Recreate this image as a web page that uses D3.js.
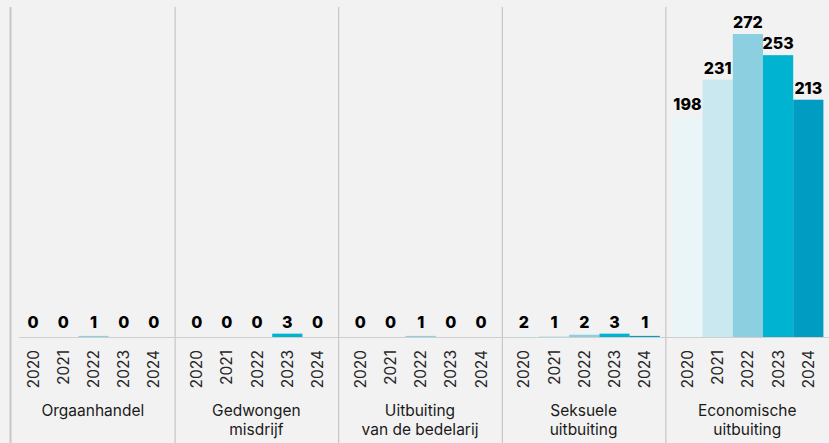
<!DOCTYPE html>
<html><head><meta charset="utf-8">
<script src="https://cdn.jsdelivr.net/npm/d3@7"></script>
<style>
html,body{margin:0;padding:0;background:#f2f2f2;}
svg{display:block;}
</style></head>
<body>
<svg id="chart" width="829" height="443"></svg>
<script>
const categories = ["Orgaanhandel", "Gedwongen misdrijf", "Uitbuiting van de bedelarij", "Seksuele uitbuiting", "Economische uitbuiting"];
const categoryLines = [["Orgaanhandel"], ["Gedwongen", "misdrijf"], ["Uitbuiting", "van de bedelarij"], ["Seksuele", "uitbuiting"], ["Economische", "uitbuiting"]];
const years = ["2020", "2021", "2022", "2023", "2024"];
const orgaanhandel = [0, 0, 1, 0, 0];
const gedwongenMisdrijf = [0, 0, 0, 3, 0];
const bedelarij = [0, 0, 1, 0, 0];
const seksueel = [2, 1, 2, 3, 1];
const economisch = [198, 231, 272, 253, 213];
const seriesValues = [orgaanhandel, gedwongenMisdrijf, bedelarij, seksueel, economisch];
const yearColors = ["#e9f5f7", "#c9e8ef", "#8bcfe0", "#00b3d0", "#009cc2"];

const svg = d3.select("#chart");
const W = 829, H = 443;
const baseY = 337;
const FONT = "Inter, 'DejaVu Sans', sans-serif";

const xPanel = d3.scaleBand().domain(categories).range([11, 829]).padding(0);
const xYear = d3.scaleBand().domain(years).range([7, 158]).padding(0);
const y = d3.scaleLinear().domain([0, 272]).range([baseY, 34]);
const color = d3.scaleOrdinal().domain(years).range(yearColors);

// separators
svg.selectAll("line.sep").data(categories).enter().append("line")
  .attr("class", "sep")
  .attr("x1", d => xPanel(d) + (d === categories[0] ? -0.5 : 0.5))
  .attr("x2", d => xPanel(d) + (d === categories[0] ? -0.5 : 0.5))
  .attr("y1", 7).attr("y2", H)
  .attr("stroke", (d, i) => i === 0 ? "#c8c8c8" : "#bdbdbd")
  .attr("stroke-width", (d, i) => i === 0 ? 2 : 1);

// baseline
svg.append("line")
  .attr("x1", 19).attr("x2", W)
  .attr("y1", baseY + 0.5).attr("y2", baseY + 0.5)
  .attr("stroke", "#cfcfcf").attr("stroke-width", 1);

const panels = svg.selectAll("g.panel").data(categories).enter().append("g")
  .attr("class", "panel")
  .attr("transform", d => `translate(${xPanel(d)},0)`);

panels.each(function(cat, ci) {
  const g = d3.select(this);
  const vals = seriesValues[ci];
  const rows = years.map((yr, i) => ({yr, v: vals[i]}));
  g.selectAll("rect").data(rows).enter().append("rect")
    .attr("x", d => xYear(d.yr))
    .attr("width", xYear.bandwidth())
    .attr("y", d => y(d.v))
    .attr("height", d => baseY - y(d.v))
    .attr("fill", d => color(d.yr));
  g.selectAll("text.val").data(rows).enter().append("text")
    .attr("class", "val")
    .attr("x", d => xYear(d.yr) + xYear.bandwidth() / 2)
    .attr("y", d => Math.min(y(d.v) - 6, 327.5))
    .attr("text-anchor", "middle")
    .attr("font-family", FONT)
    .attr("font-weight", 800)
    .attr("font-size", 16)
    .attr("fill", "#000")
    .text(d => d.v);
  // year tick labels
  const axis = d3.axisBottom(xYear).tickSize(0).tickPadding(0);
  const ag = g.append("g").attr("transform", `translate(0,${baseY})`).call(axis);
  ag.select(".domain").remove();
  ag.selectAll("text")
    .attr("transform", "rotate(-90)")
    .attr("x", -13).attr("y", 0).attr("dy", "0.35em")
    .attr("text-anchor", "end")
    .attr("font-family", FONT)
    .attr("font-size", 15.5)
    .attr("fill", "#262626");
  // category label
  const t = g.append("text")
    .attr("x", xPanel.bandwidth() / 2)
    .attr("y", 416)
    .attr("text-anchor", "middle")
    .attr("font-family", FONT)
    .attr("font-size", 15.5)
    .attr("fill", "#1a1a1a");
  categoryLines[ci].forEach((ln, li) => {
    t.append("tspan").attr("x", xPanel.bandwidth() / 2).attr("dy", li === 0 ? 0 : 19).text(ln);
  });
});
</script>
</body></html>
